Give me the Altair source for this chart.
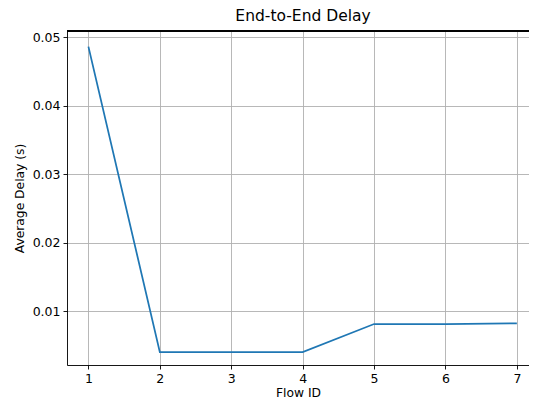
import altair as alt
import pandas as pd

flow_ids = [1, 2, 3, 4, 5, 6, 7]
avg_delay = [0.0486, 0.0040, 0.0040, 0.0040, 0.0081, 0.0081, 0.0082]
x_ticks = [1, 2, 3, 4, 5, 6, 7]
y_ticks = [0.01, 0.02, 0.03, 0.04, 0.05]

df = pd.DataFrame({"flow": flow_ids, "delay": avg_delay})

FONT = "DejaVu Sans"
W, H = 462, 334

line = alt.Chart(df).mark_line(color="#1f77b4", strokeWidth=1.75).encode(
    x=alt.X("flow:Q",
            scale=alt.Scale(domain=[0.7, 7.17], nice=False, zero=False),
            axis=alt.Axis(values=x_ticks, format="d", title="Flow ID",
                          grid=True, gridColor="#b0b0b0", gridWidth=0.9,
                          domainColor="black", domainWidth=0.9,
                          tickColor="black", tickSize=4, tickWidth=0.9,
                          labelFont=FONT, labelFontSize=12.5, labelColor="black",
                          labelPadding=3, titleFont=FONT, titleFontSize=12.3,
                          titleFontWeight="normal", titleColor="black",
                          titlePadding=2, labelFlush=False)),
    y=alt.Y("delay:Q",
            scale=alt.Scale(domain=[0.00212, 0.05088], nice=False, zero=False),
            axis=alt.Axis(values=y_ticks, format=".2f", title="Average Delay (s)",
                          grid=True, gridColor="#b0b0b0", gridWidth=0.9,
                          domainColor="black", domainWidth=0.9,
                          tickColor="black", tickSize=4, tickWidth=0.9,
                          labelFont=FONT, labelFontSize=12.5, labelColor="black",
                          labelPadding=3, titleFont=FONT, titleFontSize=12.3,
                          titleFontWeight="normal", titleColor="black",
                          titlePadding=6, labelFlush=False)),
)

top_spine = alt.Chart(df).mark_rule(color="black", strokeWidth=0.9).encode(
    x=alt.value(0), x2=alt.value(W), y=alt.value(0)
)

chart = alt.layer(line, top_spine).properties(
    width=W, height=H,
    title=alt.TitleParams("End-to-End Delay", font=FONT, fontSize=15.5,
                          fontWeight="normal", color="black", anchor="middle",
                          offset=6, dx=5),
    autosize=alt.AutoSizeParams(type="none"),
    padding={"left": 59, "top": 23, "right": 0, "bottom": 35},
).configure_view(stroke=None).configure(background="white")

chart.save("out.html", embed_options={"renderer": "svg", "actions": False})
